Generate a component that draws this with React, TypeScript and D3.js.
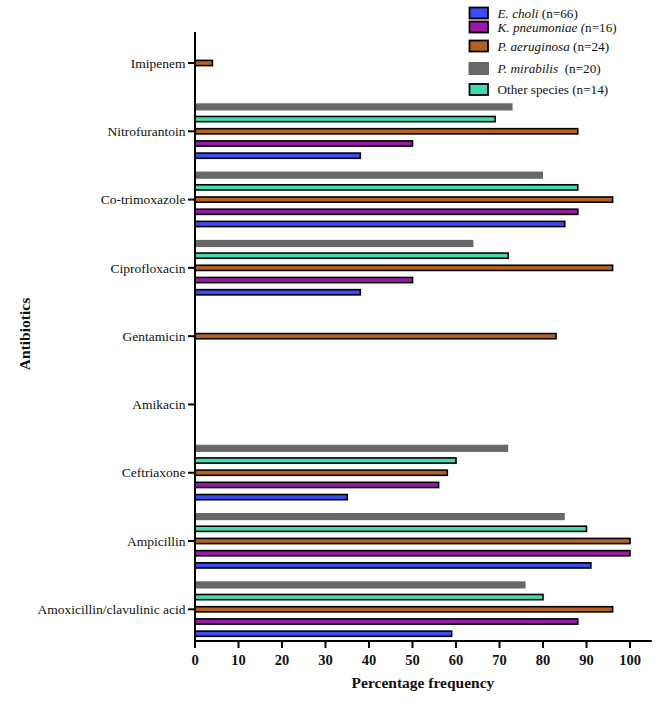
import React from "react";
import * as d3 from "d3";

const categories = [
  "Amoxicillin/clavulinic acid",
  "Ampicillin",
  "Ceftriaxone",
  "Amikacin",
  "Gentamicin",
  "Ciprofloxacin",
  "Co-trimoxazole",
  "Nitrofurantoin",
  "Imipenem",
];

const eColi = [59, 91, 35, null, null, 38, 85, 38, null];
const kPneumoniae = [88, 100, 56, null, null, 50, 88, 50, null];
const pAeruginosa = [96, 100, 58, null, 83, 96, 96, 88, 4];
const otherSpecies = [80, 90, 60, null, null, 72, 88, 69, null];
const pMirabilis = [76, 85, 72, null, null, 64, 80, 73, null];

const xTicks = [0, 10, 20, 30, 40, 50, 60, 70, 80, 90, 100];

const series = [
  { key: "ecoli", values: eColi, color: "#3b4cf2", stroke: true, offset: 2 },
  { key: "kpn", values: kPneumoniae, color: "#9a1aa8", stroke: true, offset: 1 },
  { key: "pae", values: pAeruginosa, color: "#b3621f", stroke: true, offset: 0 },
  { key: "other", values: otherSpecies, color: "#45dbb2", stroke: true, offset: -1 },
  { key: "pmir", values: pMirabilis, color: "#676767", stroke: false, offset: -2 },
];

const legendItems = [
  { italic: "E. choli", rest: " (n=66)", color: "#3b4cf2", stroke: true, y: 13 },
  { italic: "K. pneumoniae (", rest: "n=16)", color: "#9a1aa8", stroke: true, y: 27 },
  { italic: "P. aeruginosa", rest: " (n=24)", color: "#b3621f", stroke: true, y: 46 },
  { italic: "P. mirabilis", rest: "\u00a0 (n=20)", color: "#676767", stroke: false, y: 68.5 },
  { italic: "", rest: "Other species (n=14)", color: "#45dbb2", stroke: true, y: 89.5 },
];

const FONT = "Liberation Serif";

export default function App() {
  const W = 669;
  const H = 703;
  const x = d3.scaleLinear().domain([0, 105]).range([195, 651.75]);
  const y = d3.scalePoint<string>().domain(categories).range([609.3, 63]);
  const step = 12.2;
  const axisY = 641;
  const axisTop = 32;
  const ts = { fontFamily: FONT };

  return (
    <svg
      width={W}
      height={H}
      style={{ position: "absolute", left: 0, top: 0, background: "#fff", fontFamily: FONT }}
    >
      {series.map((s) =>
        s.values.map((v, i) => {
          if (v === null || v === undefined) return null;
          const cy = (y(categories[i]) as number) + s.offset * step;
          if (s.stroke) {
            return (
              <rect
                key={s.key + i}
                x={x(0)}
                y={cy - 2.6}
                width={x(v) - x(0)}
                height={5.2}
                fill={s.color}
                stroke="#000"
                strokeWidth={1.6}
              />
            );
          }
          return (
            <rect
              key={s.key + i}
              x={x(0)}
              y={cy - 3.6}
              width={x(v) - x(0)}
              height={7.2}
              fill={s.color}
            />
          );
        })
      )}

      <line x1={x(0)} x2={x(0)} y1={axisTop} y2={axisY + 7} stroke="#000" strokeWidth={2} />
      {categories.map((c) => {
        const cy = y(c) as number;
        return (
          <g key={c}>
            <line x1={x(0) - 7} x2={x(0)} y1={cy} y2={cy} stroke="#000" strokeWidth={2} />
            <text x={x(0) - 9.5} y={cy} dy="0.35em" textAnchor="end" fontSize={13.5} fill="#111" style={ts}>
              {c}
            </text>
          </g>
        );
      })}

      <line x1={x(0) - 1} x2={x(105)} y1={axisY} y2={axisY} stroke="#000" strokeWidth={2} />
      {xTicks.map((t) => (
        <g key={t}>
          <line x1={x(t)} x2={x(t)} y1={axisY} y2={axisY + 7} stroke="#000" strokeWidth={2} />
          <text x={x(t)} y={axisY + 24} textAnchor="middle" fontSize={14.5} fontWeight="bold" fill="#111" style={ts}>
            {t}
          </text>
        </g>
      ))}

      <text x={423} y={688} textAnchor="middle" fontSize={15.5} fontWeight="bold" fill="#111" style={ts}>
        Percentage frequency
      </text>
      <text
        transform={`translate(30, 334) rotate(-90)`}
        textAnchor="middle"
        fontSize={15.5}
        fontWeight="bold"
        fill="#111"
        style={ts}
      >
        Antibiotics
      </text>

      {legendItems.map((l) => (
        <g key={l.rest}>
          {l.stroke ? (
            <rect x={469.5} y={l.y - 5.5} width={18.5} height={11} fill={l.color} stroke="#000" strokeWidth={1.8} />
          ) : (
            <rect x={468.5} y={l.y - 6.5} width={20.5} height={13} fill={l.color} />
          )}
          <text x={497.5} y={l.y} dy="0.35em" fontSize={13.2} fill="#111" style={ts}>
            {l.italic ? <tspan fontStyle="italic">{l.italic}</tspan> : null}
            <tspan>{l.rest}</tspan>
          </text>
        </g>
      ))}
    </svg>
  );
}
